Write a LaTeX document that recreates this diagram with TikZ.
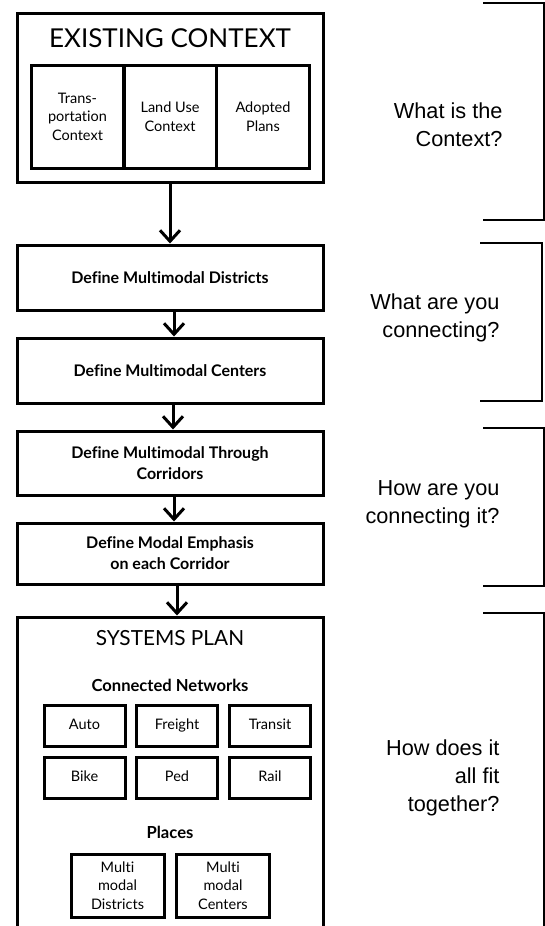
\documentclass[tikz,border=0pt]{standalone}
\usepackage{fontspec}
\setmainfont{Lato}[Ligatures={NoCommon}]
\newfontfamily\askfont{Liberation Sans}
\usetikzlibrary{arrows.meta,positioning}
\tikzset{frame/.style={rectangle,draw,line width=3pt,minimum width=306pt,inner sep=0pt},stage/.style={frame,font=\bfseries\fontsize{16}{21}\selectfont,align=center},part/.style={rectangle,draw,line width=3pt,inner sep=0pt,align=center,font=\fontsize{14.5}{18.5}\selectfont},netbox/.style={part,minimum width=81pt,minimum height=41pt,text height=2.1ex,text depth=.35ex},heading/.style={font=\bfseries\fontsize{16.6}{19}\selectfont},flow/.style={-{Straight Barb[length=11pt,width=20pt,line width=3pt]},line width=3pt},brace/.style={line width=1.3pt},question/.style={anchor=east,align=right,font=\askfont\fontsize{21.7}{28}\selectfont}}

\begin{document}
\begin{tikzpicture}[x=1pt,y=-1pt]
\useasboundingbox (0,0) rectangle (545,926);
% existing context
\node[frame,minimum height=169pt] (ctx) at (170,97.5) {};
\node[font=\fontsize{26}{29}\selectfont] (ctxtitle) at (170,38) {EXISTING CONTEXT};
\node[part,minimum width=93pt,minimum height=103pt] (trans) at (77.5,116.5) {Trans-\\portation\\Context};
\node[part,minimum width=93pt,minimum height=103pt] (landuse) at (170,116.5) {Land Use\\Context};
\node[part,minimum width=93pt,minimum height=103pt] (adopted) at (263,116.5) {Adopted\\Plans};
% definition steps
\node[stage,minimum height=65pt] (districts) at (170,277.5) {Define Multimodal Districts};
\node[stage,minimum height=65pt] (centers) at (170,370.5) {Define Multimodal Centers};
\node[stage,minimum height=64pt] (corridors) at (170,463) {Define Multimodal Through\\Corridors};
\node[stage,minimum height=61pt] (emphasis) at (170,553.5) {Define Modal Emphasis\\on each Corridor};
% systems plan (runs off the page)
\node[frame,minimum height=343pt] (sys) at (170,788.5) {};
\node[font=\fontsize{20.8}{23}\selectfont] (systitle) at (170,638) {SYSTEMS PLAN};
\node[heading] (networks) at (170,685) {Connected Networks};
\foreach \name/\x/\y in {Auto/84.5/725.5,Freight/177/725.5,Transit/270/725.5,Bike/84.5/777.5,Ped/177/777.5,Rail/270/777.5}
  \node[netbox] (\name) at (\x,\y) {\name};
\node[heading] (places) at (170,832) {Places};
\node[part,minimum width=93pt,minimum height=63pt] (mmdist) at (117.5,885.5) {Multi\\modal\\Districts};
\node[part,minimum width=93pt,minimum height=63pt] (mmcent) at (223,885.5) {Multi\\modal\\Centers};
% arrows
\draw[flow] (ctx) -- (districts);
\draw[flow] ([xshift=4pt]districts.south) -- ([xshift=4pt]centers.north);
\draw[flow] ([xshift=3pt]centers.south) -- ([xshift=3pt]corridors.north);
\draw[flow] ([xshift=4pt]corridors.south) -- ([xshift=4pt]emphasis.north);
\draw[flow] ([xshift=7pt]emphasis.south) -- ([xshift=7pt]sys.north);
% brackets and questions
\draw[brace] (483,3) -- (544,3) -- (544,220) -- (483,220);
\draw[brace] (480,243) -- (542,243) -- (542,401) -- (480,401);
\draw[brace] (483,428) -- (544,428) -- (544,586) -- (483,586);
\draw[brace] (483,613) -- (544,613) -- (544,960);
\node[question] (q1) at (506,125) {What is the\\Context?};
\node[question] (q2) at (503,318) {What are you\\connecting?};
\node[question] (q3) at (503,504) {How are you\\connecting it?};
\node[question] (q4) at (503,778) {How does it\\all fit\\together?};
\end{tikzpicture}
\end{document}
